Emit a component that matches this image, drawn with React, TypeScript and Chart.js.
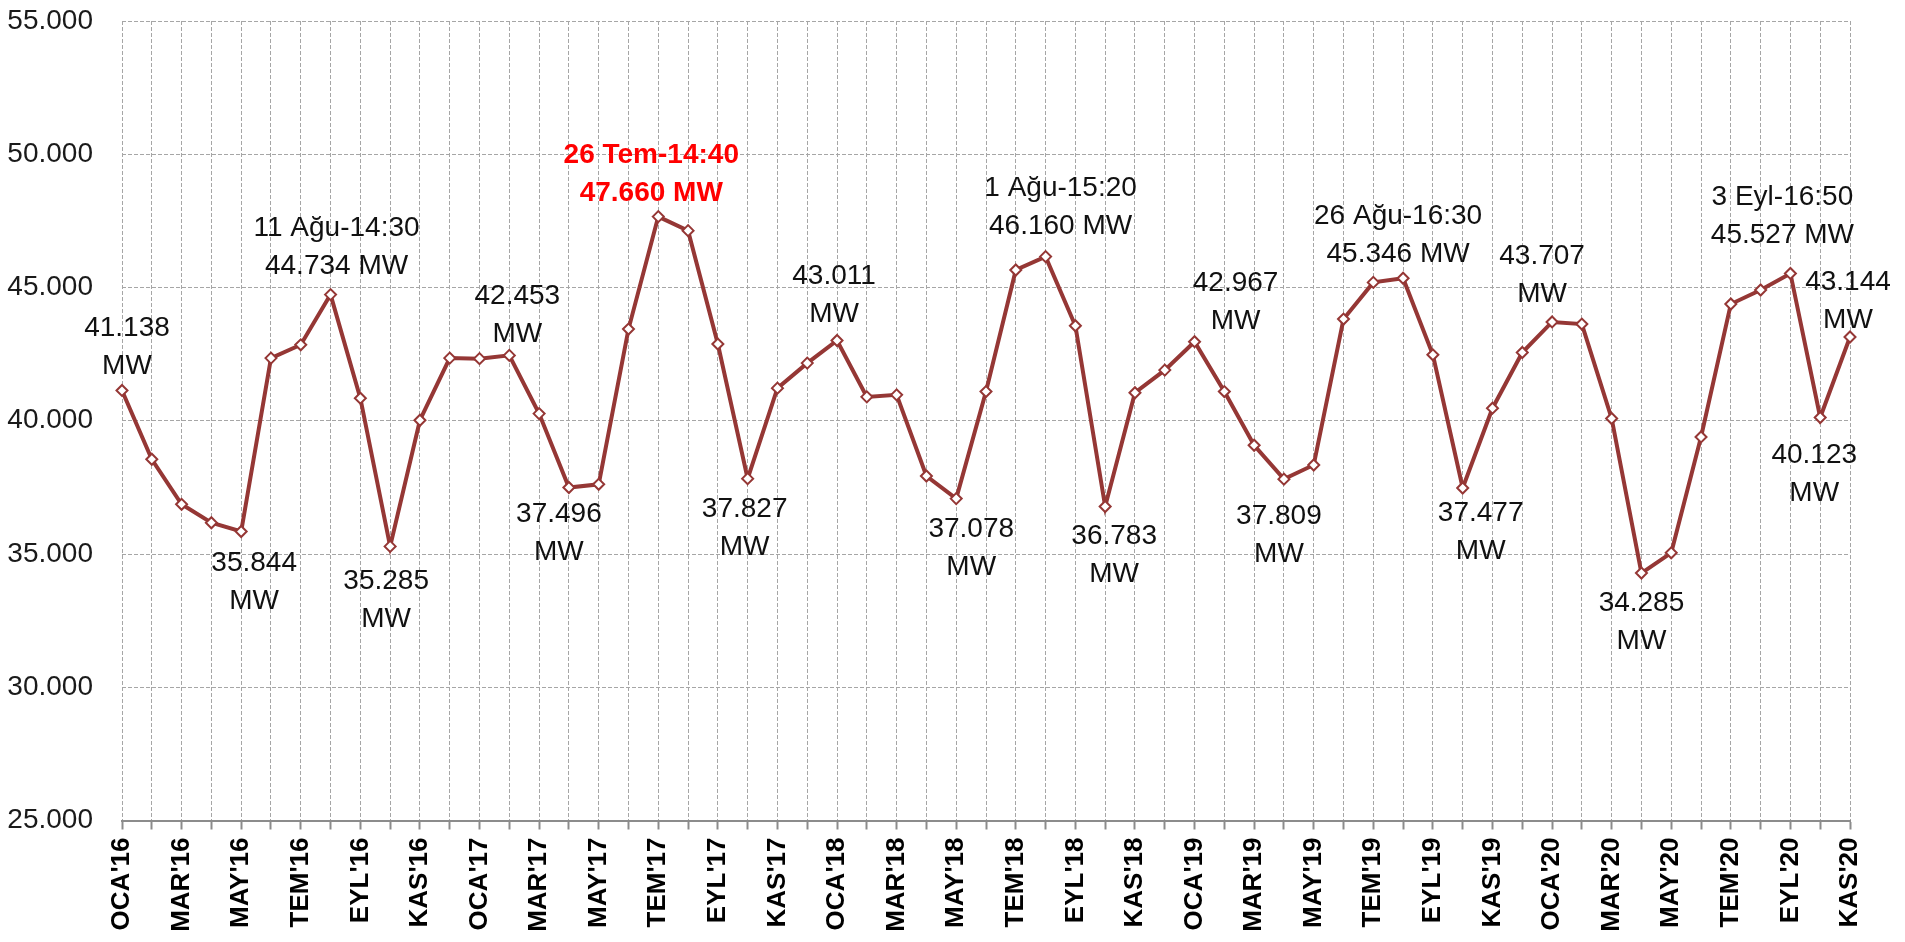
import React, { useEffect, useRef } from "react";
import { Chart, registerables } from "chart.js";

Chart.register(...registerables);

const monthNames = ["OCA", "ŞUB", "MAR", "NİS", "MAY", "HAZ", "TEM", "AĞU", "EYL", "EKİ", "KAS", "ARA"];
const years = ["16", "17", "18", "19", "20"];
const monthCount = 59;

const categories: string[] = [];
for (let i = 0; i < monthCount; i++) {
  categories.push(`${monthNames[i % 12]}'${years[Math.floor(i / 12)]}`);
}

const peakLoads = [
  41138, 38555, 36864, 36173, 35844, 42350, 42850, 44734, 40847, 35285, 40020, 42350,
  42330, 42453, 40268, 37496, 37615, 43440, 47660, 47134, 42877, 37827, 41223, 42163,
  43011, 40896, 40971, 37927, 37078, 41095, 45657, 46160, 43565, 36783, 41052, 41900,
  42967, 41095, 39081, 37809, 38341, 43816, 45192, 45346, 42475, 37477, 40471, 42561,
  43707, 43628, 40085, 34285, 35045, 39393, 44380, 44906, 45527, 40123, 43144,
];

const yTicks = [25000, 30000, 35000, 40000, 45000, 50000, 55000];

const annotatedIdx = [0, 4, 7, 9, 13, 15, 18, 21, 24, 28, 31, 33, 36, 39, 43, 45, 48, 51, 56, 57, 58];
const annotationDates: Record<number, string> = {
  7: "11 Ağu-14:30",
  18: "26 Tem-14:40",
  31: "1 Ağu-15:20",
  43: "26 Ağu-16:30",
  56: "3 Eyl-16:50",
};
const recordIdx = 18;

// label placement offsets (dx, dy of first line) relative to the point
const labelOffsets: [number, number][] = [
  [5, -62], [13, 32], [6, -66], [-4, 35], [8, -59], [-10, 27], [-7, -61], [-3, 31],
  [-3, -64], [15, 31], [15, -68], [9, 30], [41, -58], [-5, 37], [-5, -62], [18, 25],
  [-10, -66], [0, 30], [-8, -76], [-6, 38], [-2, -55],
];

const fmt = (v: number) => {
  const s = Math.round(v).toString();
  return s.replace(/\B(?=(\d{3})+(?!\d))/g, ".");
};

const FONT = '"Liberation Sans", Arial, sans-serif';
const LINE_COLOR = "#953735";

const labelPlugin = {
  id: "peakLabels",
  afterDatasetsDraw(chart: any) {
    const { ctx } = chart;
    const meta = chart.getDatasetMeta(0);
    ctx.save();
    ctx.textAlign = "center";
    ctx.textBaseline = "middle";
    annotatedIdx.forEach((idx, k) => {
      const el = meta.data[idx];
      if (!el) return;
      const [dx, dy] = labelOffsets[k];
      const v = peakLoads[idx];
      const lines = annotationDates[idx]
        ? [annotationDates[idx], `${fmt(v)} MW`]
        : [fmt(v), "MW"];
      const hi = idx === recordIdx;
      ctx.font = `${hi ? "bold " : ""}28px ${FONT}`;
      ctx.fillStyle = hi ? "#ff0000" : "#111111";
      lines.forEach((t, li) => ctx.fillText(t, el.x + dx, el.y + dy + li * 38));
    });
    ctx.restore();
  },
};

export default function App() {
  const ref = useRef<HTMLCanvasElement>(null);
  useEffect(() => {
    document.body.style.margin = "0";
    const canvas = ref.current;
    if (!canvas) return;
    const chart = new Chart(canvas, {
      type: "line",
      data: {
        labels: categories,
        datasets: [
          {
            data: peakLoads,
            borderColor: LINE_COLOR,
            borderWidth: 4,
            pointStyle: "rectRot",
            pointRadius: 5.5,
            pointBorderWidth: 2,
            pointBackgroundColor: "#ffffff",
            pointBorderColor: LINE_COLOR,
            tension: 0,
          },
        ],
      },
      options: {
        responsive: false,
        animation: false,
        devicePixelRatio: 1,
        layout: { padding: { top: 21, right: 55, left: 0, bottom: 0 } },
        plugins: { legend: { display: false }, tooltip: { enabled: false } },
        scales: {
          x: {
            offset: false,
            grid: {
              color: "#a6a6a6",
              lineWidth: 1,
              drawTicks: true,
              tickLength: 9,
              tickColor: "#8c8c8c",
              tickWidth: 2,
            },
            border: { display: true, color: "#8c8c8c", width: 2, dash: [4, 2] },
            ticks: {
              autoSkip: false,
              maxRotation: 90,
              minRotation: 90,
              padding: 8,
              color: "#000000",
              font: { family: FONT, size: 26, weight: "bold" },
              callback: (_v: any, i: number) => (i % 2 === 0 ? categories[i] : ""),
            },
            afterFit: (s: any) => {
              s.height = 121.5;
            },
          },
          y: {
            min: yTicks[0],
            max: yTicks[yTicks.length - 1],
            afterBuildTicks: (s: any) => {
              s.ticks = yTicks.map((v) => ({ value: v }));
            },
            grid: {
              color: "#a6a6a6",
              lineWidth: 1,
              drawTicks: true,
              tickLength: 29,
              tickColor: "rgba(0,0,0,0)",
            },
            border: { display: false, dash: [4, 2] },
            ticks: {
              padding: 0,
              color: "#1a1a1a",
              font: { family: FONT, size: 28 },
              callback: (v: any) => fmt(Number(v)),
            },
            afterFit: (s: any) => {
              s.width = 122;
              s.paddingTop = 0;
            },
          },
        },
      },
      plugins: [labelPlugin],
    });
    return () => chart.destroy();
  }, []);
  return <canvas ref={ref} width={1905} height={942} style={{ display: "block" }} />;
}
